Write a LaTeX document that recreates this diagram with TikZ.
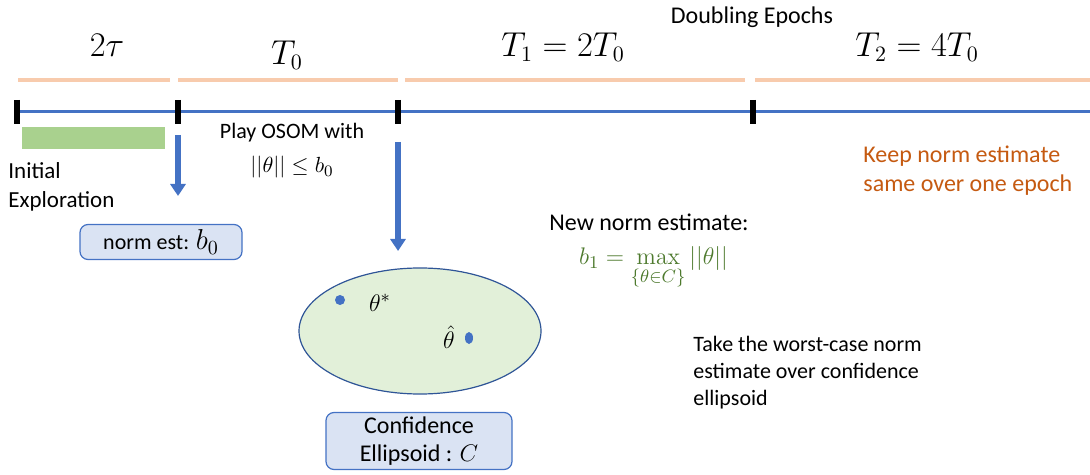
\documentclass[tikz,border=0pt]{standalone}
\usepackage[no-math]{fontspec}
\setmainfont{Carlito}
\usepackage{amsmath}
\usepackage{tikz}
\usepackage{xcolor}
\usetikzlibrary{arrows.meta, positioning, calc}

\definecolor{epochorange}{HTML}{F8CBAD}
\definecolor{lineblue}{HTML}{4472C4}
\definecolor{barGreen}{HTML}{A9D18E}
\definecolor{boxblue}{HTML}{DAE3F3}
\definecolor{ellgreen}{HTML}{E2F0D9}
\definecolor{ellborder}{HTML}{2F5597}
\definecolor{formulagreen}{HTML}{4E7A2E}
\definecolor{keepbrown}{HTML}{C55A11}

\begin{document}
\begin{tikzpicture}[
    x=0.5pt,
    y=-0.5pt,
    >={Triangle[length=6pt,width=7.5pt]},
    epochbar/.style={draw=epochorange, line width=2pt},
    timeline/.style={draw=lineblue, line width=1.5pt},
    tickmark/.style={draw=black, line width=2.6pt},
    flowarrow/.style={->, draw=lineblue, line width=3pt},
    notebox/.style={draw=lineblue, fill=boxblue, rounded corners=4pt, line width=0.6pt, align=center},
    plaintext/.style={font=\fontsize{11.5}{14.5}\selectfont, align=left, inner sep=0pt},
    epochlabel/.style={font=\fontsize{16}{18}\selectfont, inner sep=0pt}
]
\useasboundingbox (0,0) rectangle (1090,475);

% Epoch bars
\draw[epochbar] (18,80) -- (170,80);
\draw[epochbar] (178,80) -- (398,80);
\draw[epochbar] (405,80) -- (745,80);
\draw[epochbar] (755,80) -- (1090,80);

% Epoch labels
\node[font=\fontsize{12}{14}\selectfont] (doubling) at (752,17) {Doubling Epochs};
\node[epochlabel] (L0) at (107,45) {$2\tau$};
\node[epochlabel] (L1) at (287,55) {$T_0$};
\node[epochlabel] (L2) at (563,47) {$T_1 = 2T_0$};
\node[epochlabel] (L3) at (917,47) {$T_2 = 4T_0$};

% Time line and ticks
\coordinate (start) at (15,112);
\coordinate (end) at (1090,112);
\draw[timeline] (start) -- (end);
\foreach \x/\name in {17/t0, 178/t1, 398/t2, 753/t3} {
    \coordinate (\name) at (\x,112);
    \draw[tickmark] ($(\name)+(0,-12)$) -- ($(\name)+(0,12)$);
}

% Initial exploration
\fill[barGreen] (22,127) rectangle (165,149);
\node[plaintext, anchor=north west] (explore) at (8,162) {Initial\\Exploration};

% Arrows down
\coordinate (a1s) at (178,135);
\coordinate (a1e) at (178,196);
\coordinate (a2s) at (398,142);
\coordinate (a2e) at (398,251);
\draw[flowarrow] (a1s) -- (a1e);
\draw[flowarrow] (a2s) -- (a2e);

\node[plaintext, align=center, font=\fontsize{11}{14}\selectfont] (osom) at (292,151) {Play OSOM with\\[3pt]$||\theta|| \leq b_0$};

% Norm estimate box
\node[notebox, minimum width=81pt, minimum height=17.5pt, inner sep=1pt] (normest) at (161,242)
    {\fontsize{11}{12}\selectfont norm est: {\fontsize{14}{14}\selectfont$b_0$}};

% Confidence ellipsoid
\draw[draw=ellborder, fill=ellgreen, line width=0.6pt] (420,331) ellipse (121 and 63);
\fill[lineblue] (340,300) circle (5);
\node[font=\fontsize{13}{14}\selectfont] (thstar) at (380,303) {$\theta^*$};
\fill[lineblue] (469,338) ellipse (4 and 6);
\node[font=\fontsize{13}{14}\selectfont] (thhat) at (449,337) {$\hat{\theta}$};

\node[notebox, minimum width=93pt, minimum height=28.5pt, inner sep=1pt, font=\fontsize{12}{14}\selectfont] (conf) at (419,441)
    {Confidence\\Ellipsoid : $C$};

% New norm estimate
\node[plaintext, anchor=west, font=\fontsize{12}{14}\selectfont] (newnorm) at (549,222) {New norm estimate:};
\node[text=formulagreen, font=\fontsize{12.5}{14}\selectfont, anchor=west] (formula) at (572,268)
    {$\displaystyle b_1 = \max_{\{\theta\in C\}} ||\theta||$};

% Notes
\node[plaintext, text=keepbrown, anchor=north west, font=\fontsize{12}{14.5}\selectfont] (keep) at (863,146) {Keep norm estimate\\same over one epoch};
\node[plaintext, anchor=north west, font=\fontsize{11}{13.5}\selectfont] (worst) at (693,336) {Take the worst-case norm\\estimate over confidence\\ellipsoid};

\end{tikzpicture}
\end{document}
